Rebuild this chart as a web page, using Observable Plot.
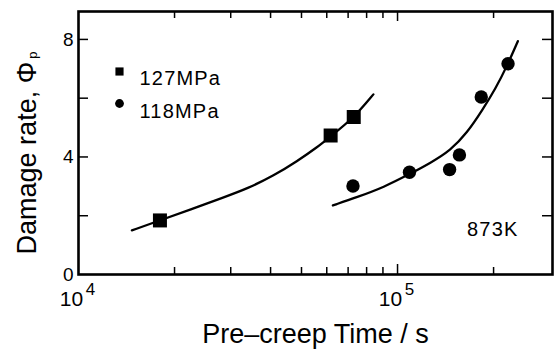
<!DOCTYPE html>
<html>
<head>
<meta charset="utf-8">
<script src="https://cdn.jsdelivr.net/npm/d3@7"></script>
<script src="https://cdn.jsdelivr.net/npm/@observablehq/plot@0.6"></script>
<style>
  html, body { margin: 0; padding: 0; background: #fff; }
  #chart { width: 557px; height: 349px; }
</style>
</head>
<body>
<div id="chart"></div>
<script>
// ---- data ----
const series127Time = [1.80e4, 6.17e4, 7.29e4];
const series127Rate = [1.84, 4.73, 5.36];
const series118Time = [7.25e4, 1.09e5, 1.456e5, 1.563e5, 1.83e5, 2.22e5];
const series118Rate = [3.01, 3.48, 3.57, 4.07, 6.04, 7.17];

// hand-drawn fit curves
const fit127Time = [1.47e4, 1.80e4, 2.24e4, 2.86e4, 3.38e4, 4.10e4, 4.85e4, 5.60e4, 6.17e4, 7.29e4, 8.40e4];
const fit127Rate = [1.50, 1.84, 2.21, 2.63, 2.92, 3.37, 3.86, 4.33, 4.70, 5.33, 6.13];
const fit118Time = [6.27e4, 7.46e4, 9.06e4, 1.092e5, 1.269e5, 1.465e5, 1.652e5, 1.841e5, 2.028e5, 2.207e5, 2.383e5];
const fit118Rate = [2.35, 2.63, 2.97, 3.42, 3.80, 4.22, 4.82, 5.58, 6.32, 7.11, 7.94];

const xMinorTicks = [2e4, 3e4, 4e4, 5e4, 6e4, 7e4, 8e4, 9e4, 2e5];
const xMajorTicks = [1e5];
const xTickLabels = [1e4, 1e5];
const yTicks = [2, 4, 6, 8];
const yTickLabels = [0, 4, 8];
const legendLabels = ["127MPa", "118MPa"];
const xLabel = "Pre\u2013creep Time / s";
const yLabel = "Damage rate, \u03A6";
const yLabelSub = "p";
const annotation = "873K";

// ---- build ----
const W = 557, H = 349;
const mL = 78, mR = 5, mT = 11, mB = 75;
const fw = W - mL - mR, fh = H - mT - mB;

const pts127 = series127Time.map((t, i) => ({t, r: series127Rate[i]}));
const pts118 = series118Time.map((t, i) => ({t, r: series118Rate[i]}));
const fit127 = fit127Time.map((t, i) => ({t, r: fit127Rate[i]}));
const fit118 = fit118Time.map((t, i) => ({t, r: fit118Rate[i]}));

const font = "'Liberation Sans', Arial, Helvetica, sans-serif";

const plot = Plot.plot({
  width: W, height: H,
  marginLeft: mL, marginRight: mR, marginTop: mT, marginBottom: mB,
  style: {fontFamily: font, background: "#fff", color: "#000"},
  x: {type: "log", domain: [1e4, 3.06e5], axis: null},
  y: {domain: [0, 8.95]},
  marks: [
    // inward ticks
    Plot.tickX(xMinorTicks, {x: d => d, insetTop: fh - 7, strokeWidth: 1.5}),
    Plot.tickX(xMinorTicks, {x: d => d, insetBottom: fh - 7, strokeWidth: 1.5}),
    Plot.tickX(xMajorTicks, {x: d => d, insetTop: fh - 10, strokeWidth: 1.5}),
    Plot.tickX(xMajorTicks, {x: d => d, insetBottom: fh - 10, strokeWidth: 1.5}),
    Plot.tickY(yTicks, {y: d => d, insetRight: fw - 10, strokeWidth: 1.5}),
    Plot.tickY(yTicks, {y: d => d, insetLeft: fw - 10, strokeWidth: 1.5}),
    Plot.axisY({ticks: yTickLabels, tickSize: 0, tickPadding: 5, fontSize: 19, label: null}),
    // x tick labels 10^n
    Plot.text(xTickLabels, {x: d => d, text: () => "10", frameAnchor: "bottom", lineAnchor: "bottom", dy: 31, dx: -7, fontSize: 21}),
    Plot.text(xTickLabels, {x: d => d, text: d => String(Math.round(Math.log10(d))), frameAnchor: "bottom", lineAnchor: "bottom", dy: 20, dx: 12, fontSize: 17}),
    // fit curves
    Plot.line(fit127, {x: "t", y: "r", curve: "basis", strokeWidth: 2.3, stroke: "#000"}),
    Plot.line(fit118, {x: "t", y: "r", curve: "basis", strokeWidth: 2.3, stroke: "#000"}),
    // data points
    Plot.dot(pts127, {x: "t", y: "r", symbol: "square", r: 7.9, fill: "#000"}),
    Plot.dot(pts118, {x: "t", y: "r", symbol: "circle", r: 6.7, fill: "#000"}),
    // legend
    Plot.dot([legendLabels[0]], {frameAnchor: "top-left", dx: 41, dy: 60, symbol: "square", r: 4.6, fill: "#000"}),
    Plot.dot([legendLabels[1]], {frameAnchor: "top-left", dx: 41, dy: 92, symbol: "circle", r: 4.4, fill: "#000"}),
    Plot.text([legendLabels[0]], {frameAnchor: "top-left", dx: 61, dy: 59, text: d => d, textAnchor: "start", fontSize: 20}),
    Plot.text([legendLabels[1]], {frameAnchor: "top-left", dx: 61, dy: 92, text: d => d, textAnchor: "start", fontSize: 20}),
    // annotation
    Plot.text([annotation], {frameAnchor: "bottom-right", dx: -34, dy: -39, text: d => d, textAnchor: "end", lineAnchor: "bottom", fontSize: 20}),
    // axis titles
    Plot.text([xLabel], {frameAnchor: "bottom", lineAnchor: "bottom", textAnchor: "middle", dy: 68, text: d => d, fontSize: 27}),
    Plot.text([yLabel], {frameAnchor: "left", rotate: -90, lineAnchor: "bottom", textAnchor: "middle", dx: -43, dy: 10, text: d => d, fontSize: 27}),
    Plot.frame({strokeWidth: 2.6, stroke: "#000"})
  ]
});

document.getElementById("chart").appendChild(plot);

const svg = d3.select(plot);
// subscript p on the y title
svg.selectAll("text").filter(function () { return this.textContent === yLabel; })
  .each(function () {
    d3.select(this).append("tspan").attr("font-size", 13).attr("dy", "0.15em").attr("dx", 3).text(yLabelSub);
  });
// slightly wider tracking, as in the scanned figure
svg.selectAll("text").filter(function () {
  return legendLabels.includes(this.textContent) || this.textContent === annotation;
}).style("letter-spacing", "1.2px");
</script>
</body>
</html>
